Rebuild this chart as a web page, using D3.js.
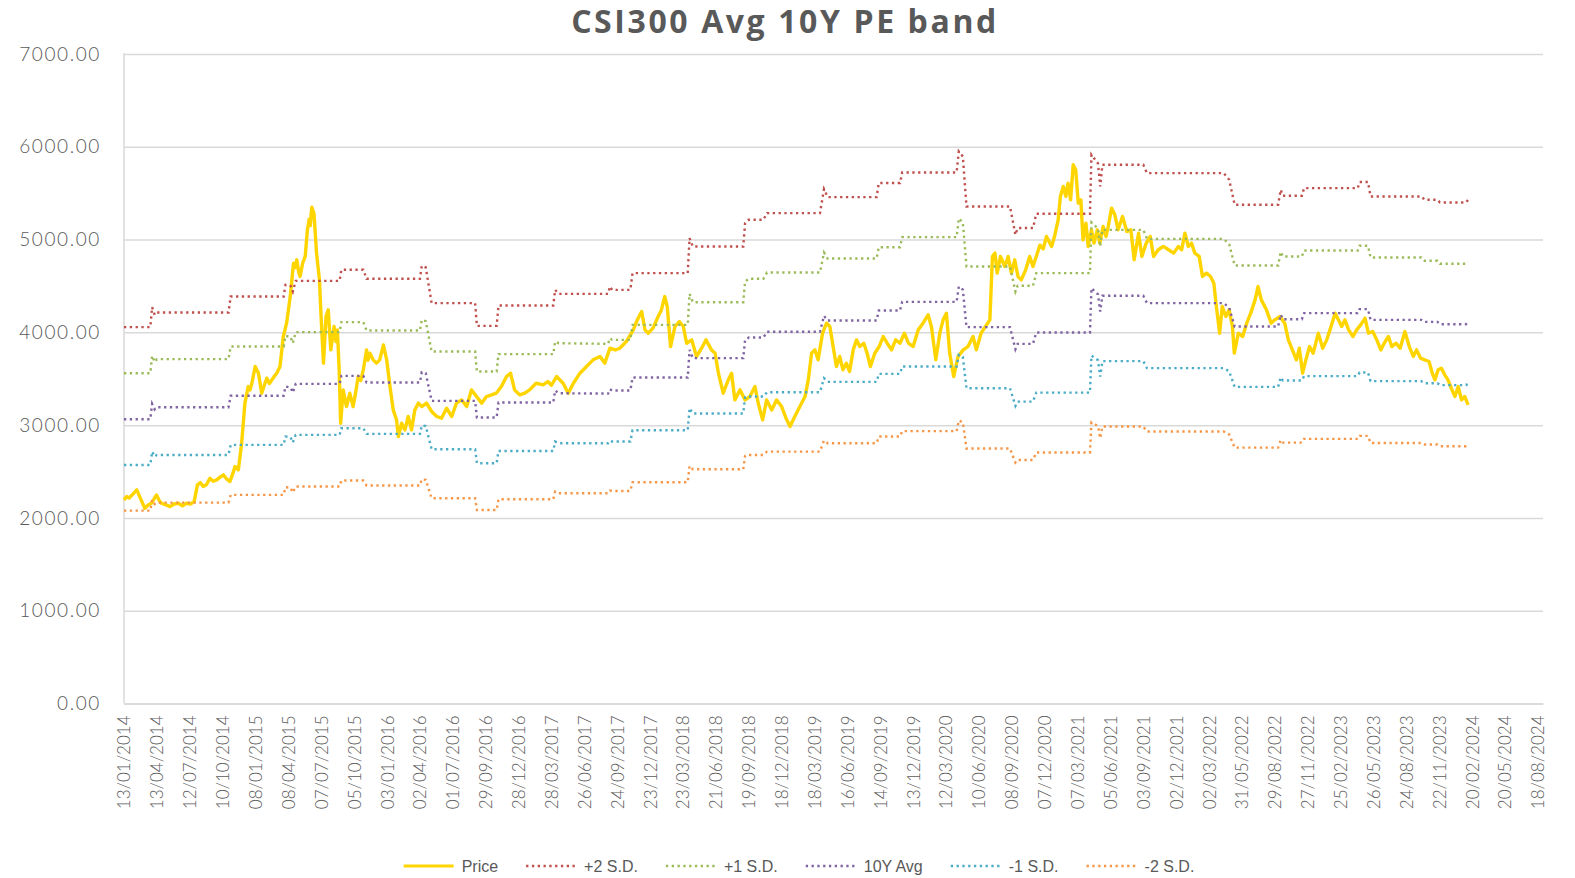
<!DOCTYPE html>
<html><head><meta charset="utf-8">
<script src="https://cdn.jsdelivr.net/npm/d3@7"></script>
<style>body{margin:0;background:#fff;} svg{display:block}</style>
</head><body><svg id="c" width="1575" height="878"></svg>
<script>
// ---------- DATA ----------
const chartTitle = "CSI300 Avg 10Y PE band";
const startDate = "13/01/2014";          // day 0 of the day offsets below
const axisEndDay = 3884;                  // right end of date axis (days after start)
const tickLabels = ["13/01/2014","13/04/2014","12/07/2014","10/10/2014","08/01/2015","08/04/2015","07/07/2015","05/10/2015","03/01/2016","02/04/2016","01/07/2016","29/09/2016","28/12/2016","28/03/2017","26/06/2017","24/09/2017","23/12/2017","23/03/2018","21/06/2018","19/09/2018","18/12/2018","18/03/2019","16/06/2019","14/09/2019","13/12/2019","12/03/2020","10/06/2020","08/09/2020","07/12/2020","07/03/2021","05/06/2021","03/09/2021","02/12/2021","02/03/2022","31/05/2022","29/08/2022","27/11/2022","25/02/2023","26/05/2023","24/08/2023","22/11/2023","20/02/2024","20/05/2024","18/08/2024"];
const yTicks = [0,1000,2000,3000,4000,5000,6000,7000];

// Price: days after start, index level
const priceDays = [0,7,14,25,35,45,57,66,75,89,96,103,115,126,137,149,160,171,182,192,201,209,217,226,235,244,254,263,272,281,290,297,304,313,322,331,340,345,350,359,368,377,384,391,398,405,412,418,427,436,445,455,464,469,473,478,482,489,496,502,507,510,514,520,527,535,539,543,546,553,559,566,571,575,580,584,589,593,600,609,618,627,634,641,648,655,664,668,673,682,691,700,710,719,728,737,746,751,760,769,778,787,796,806,815,828,842,856,869,883,897,910,924,938,951,965,979,992,1006,1019,1033,1047,1058,1069,1083,1097,1110,1128,1147,1160,1170,1184,1202,1216,1230,1248,1266,1284,1303,1316,1330,1345,1357,1375,1394,1405,1417,1426,1435,1448,1462,1471,1480,1487,1496,1508,1520,1531,1540,1554,1567,1581,1593,1608,1618,1627,1640,1654,1663,1672,1686,1700,1713,1727,1736,1748,1759,1773,1786,1800,1812,1823,1836,1850,1864,1873,1882,1891,1900,1912,1923,1932,1941,1950,1959,1968,1977,1986,1996,2005,2014,2025,2034,2043,2055,2067,2078,2089,2101,2112,2124,2136,2147,2160,2174,2187,2201,2210,2222,2233,2242,2251,2260,2271,2283,2297,2310,2324,2333,2346,2358,2370,2377,2384,2390,2399,2411,2420,2429,2438,2447,2456,2468,2479,2488,2497,2507,2516,2525,2539,2548,2557,2563,2571,2578,2584,2591,2598,2605,2612,2619,2625,2633,2639,2648,2655,2664,2671,2680,2688,2694,2703,2712,2721,2733,2745,2756,2765,2777,2786,2798,2809,2818,2831,2845,2859,2873,2886,2895,2904,2913,2922,2931,2943,2952,2963,2974,2983,2990,2999,3006,3016,3025,3034,3039,3050,3062,3073,3084,3096,3104,3113,3127,3140,3150,3164,3177,3187,3198,3209,3217,3226,3235,3245,3255,3269,3281,3292,3301,3315,3324,3333,3342,3352,3364,3374,3385,3397,3406,3418,3429,3440,3452,3461,3470,3482,3493,3506,3518,3529,3538,3549,3560,3572,3581,3588,3597,3606,3615,3624,3633,3643,3652,3661,3670,3679];
const priceValues = [2194,2230,2215,2260,2302,2210,2104,2140,2158,2248,2190,2158,2140,2122,2150,2158,2130,2158,2150,2176,2356,2380,2338,2360,2428,2395,2410,2440,2464,2420,2392,2470,2553,2518,2805,3237,3416,3380,3452,3632,3560,3344,3430,3506,3450,3488,3530,3560,3632,3955,4099,4386,4746,4700,4782,4650,4602,4746,4818,5105,5220,5150,5350,5284,4854,4566,4207,3900,3668,4170,4243,3811,3950,4063,3900,4027,3596,3021,3380,3200,3344,3200,3350,3524,3480,3596,3811,3700,3775,3704,3668,3704,3865,3704,3416,3164,3057,2877,3021,2949,3093,2949,3164,3237,3200,3237,3147,3093,3075,3183,3093,3237,3272,3200,3380,3308,3237,3308,3326,3344,3416,3524,3560,3380,3326,3344,3380,3452,3434,3470,3430,3524,3452,3344,3452,3560,3632,3704,3740,3668,3829,3810,3829,3901,4027,4135,4224,4027,3991,4045,4171,4242,4386,4278,3847,4063,4117,4063,3883,3919,3740,3829,3919,3811,3775,3560,3344,3488,3560,3272,3380,3272,3308,3416,3236,3057,3272,3164,3272,3200,3075,2985,3093,3200,3308,3488,3776,3811,3704,3991,4099,4063,3847,3632,3740,3596,3668,3578,3811,3919,3847,3883,3775,3632,3775,3847,3955,3883,3811,3919,3883,3991,3883,3847,4027,4099,4189,4063,3704,3991,4135,4207,3776,3524,3740,3811,3847,3955,3811,3991,4063,4135,4818,4854,4638,4818,4710,4818,4638,4782,4602,4566,4674,4818,4710,4818,4940,4900,5033,4926,5050,5213,5465,5572,5465,5608,5429,5806,5752,5393,5429,4997,5177,4926,5105,4962,5105,4962,5141,5033,5141,5339,5267,5105,5249,5087,5105,4782,5069,4818,4962,5033,4818,4890,4926,4890,4854,4926,4890,5069,4926,4962,4854,4818,4602,4638,4602,4530,4278,3991,4278,4171,4243,4063,3776,3991,3955,4099,4207,4350,4494,4350,4243,4099,4135,4171,4099,3919,3811,3704,3829,3560,3704,3847,3776,3991,3829,3919,4027,4207,4135,4063,4135,4027,3955,4027,4081,4153,3991,4009,3919,3811,3901,3955,3847,3883,3829,4009,3847,3740,3811,3722,3704,3686,3560,3488,3596,3614,3542,3488,3398,3308,3416,3272,3308,3218];

// PE bands: days after start, index level
const bandDays = [0,72,77,84,90,286,292,437,442,456,462,470,590,595,655,664,810,815,826,842,961,966,1020,1025,1175,1180,1190,1325,1330,1336,1386,1392,1543,1548,1557,1695,1700,1710,1750,1760,1905,1916,1926,2060,2066,2124,2130,2279,2285,2296,2306,2425,2440,2446,2488,2497,2644,2648,2666,2672,2678,2790,2800,3010,3025,3040,3159,3166,3172,3224,3230,3377,3382,3405,3412,3551,3560,3595,3602,3673,3679];
const plus2SD = [4056,4056,4272,4189,4214,4214,4386,4386,4512,4500,4440,4555,4555,4674,4674,4577,4577,4717,4700,4315,4315,4070,4070,4289,4289,4458,4415,4415,4494,4458,4458,4638,4638,5016,4925,4925,5177,5213,5213,5285,5285,5544,5458,5458,5609,5609,5723,5723,5950,5896,5357,5357,5051,5124,5124,5278,5278,5914,5820,5572,5806,5806,5716,5716,5645,5375,5375,5537,5472,5472,5555,5555,5620,5620,5465,5465,5429,5429,5400,5400,5429];
const plus1SD = [3560,3560,3747,3680,3711,3711,3847,3847,3962,3950,3883,4002,4002,4110,4110,4020,4020,4135,4120,3793,3793,3578,3578,3765,3765,3901,3883,3876,3937,3919,3919,4081,4081,4415,4325,4325,4548,4577,4577,4645,4645,4861,4796,4796,4918,4918,5026,5026,5228,5185,4710,4710,4440,4502,4502,4638,4638,5184,5120,4926,5105,5105,5008,5008,4950,4721,4721,4868,4818,4818,4882,4882,4933,4933,4807,4807,4771,4771,4739,4739,4760];
const avg10Y = [3064,3064,3229,3170,3193,3193,3316,3316,3416,3405,3351,3445,3445,3531,3531,3459,3459,3571,3560,3262,3262,3082,3082,3244,3244,3373,3344,3340,3387,3373,3373,3513,3513,3811,3722,3722,3919,3944,3944,4006,4006,4178,4128,4128,4235,4235,4329,4329,4494,4460,4056,4056,3819,3876,3876,3998,3998,4476,4410,4225,4394,4394,4315,4315,4265,4063,4063,4190,4142,4142,4207,4207,4250,4250,4135,4135,4113,4113,4088,4088,4107];
const minus1SD = [2571,2571,2715,2660,2679,2679,2787,2787,2877,2870,2812,2895,2895,2967,2967,2906,2906,2996,2990,2740,2740,2590,2590,2722,2722,2823,2805,2805,2833,2823,2823,2945,2945,3183,3125,3125,3301,3308,3308,3355,3355,3506,3466,3466,3553,3553,3632,3632,3758,3735,3398,3398,3208,3254,3254,3351,3351,3750,3700,3524,3690,3690,3614,3614,3580,3412,3412,3515,3481,3481,3528,3528,3567,3567,3474,3474,3452,3452,3431,3431,3445];
const minus2SD = [2079,2079,2194,2150,2165,2165,2248,2248,2331,2325,2273,2338,2338,2403,2403,2349,2349,2417,2410,2212,2212,2086,2086,2201,2201,2284,2266,2266,2295,2291,2291,2385,2385,2561,2525,2525,2669,2679,2679,2715,2715,2834,2805,2805,2877,2877,2935,2935,3050,3030,2748,2748,2597,2625,2625,2705,2705,3028,2990,2859,2985,2985,2931,2931,2900,2758,2758,2840,2812,2812,2852,2852,2884,2884,2808,2808,2791,2791,2773,2773,2787];

const seriesNames = ["Price","+2 S.D.","+1 S.D.","10Y Avg","-1 S.D.","-2 S.D."];
const seriesColors = ["#FFD500","#C0504D","#9BBB59","#8064A2","#4BACC6","#F79646"];

// ---------- CHART ----------
const svg = d3.select("#c");
const L = 124, R = 1543, T = 54, B = 703.5;
const parse = d3.utcParse("%d/%m/%Y");
const base = parse(startDate);
const toDate = d => d3.utcDay.offset(base, d);
const x = d3.scaleUtc().domain([base, toDate(axisEndDay)]).range([L, R]);
const y = d3.scaleLinear().domain([0, 7000]).range([B, T]);
const grey = "#595959";

// title
svg.append("text").attr("x", 785).attr("y", 33).attr("text-anchor", "middle")
  .attr("font-family", "'Open Sans', sans-serif").attr("font-weight", 700)
  .attr("font-size", 32).attr("letter-spacing", 2.6).attr("fill", grey).text(chartTitle);

// y axis + grid
const yAxis = svg.append("g").attr("transform", `translate(${L},0)`)
  .call(d3.axisLeft(y).tickValues(yTicks).tickSize(-(R - L)).tickPadding(23).tickFormat(d3.format(".2f")));
yAxis.select(".domain").remove();
yAxis.selectAll(".tick line").attr("stroke", "#d9d9d9").attr("stroke-width", 1.5);
yAxis.selectAll(".tick text").attr("fill", grey).attr("font-family", "Lato, sans-serif")
  .attr("font-weight", 300).attr("font-size", 19).attr("letter-spacing", 1.6);

// left axis line
svg.append("line").attr("x1", L).attr("x2", L).attr("y1", T - 1).attr("y2", B)
  .attr("stroke", "#d9d9d9").attr("stroke-width", 1.5);

// x axis
const tickDates = tickLabels.map(parse);
const xAxis = svg.append("g").attr("transform", `translate(0,${B})`)
  .call(d3.axisBottom(x).tickValues(tickDates).tickSize(0).tickFormat((d, i) => tickLabels[i]));
xAxis.select(".domain").attr("stroke", "#d9d9d9").attr("stroke-width", 1.5);
xAxis.selectAll(".tick text").attr("fill", grey).attr("font-family", "Lato, sans-serif")
  .attr("font-weight", 300).attr("font-size", 17)
  .attr("transform", "rotate(-90)").attr("text-anchor", "end")
  .attr("x", -12).attr("y", 0).attr("dy", "0.35em");

// series
const line = d3.line().x(d => x(toDate(d[0]))).y(d => y(d[1]));
const priceData = priceDays.map((d, i) => [d, priceValues[i]]);
const bands = [plus2SD, plus1SD, avg10Y, minus1SD, minus2SD];
const g = svg.append("g");
g.append("path").datum(priceData).attr("d", line).attr("fill", "none")
  .attr("stroke", seriesColors[0]).attr("stroke-width", 3.4).attr("stroke-linejoin", "round");
bands.forEach((vals, k) => {
  g.append("path").datum(bandDays.map((d, i) => [d, vals[i]])).attr("d", line).attr("fill", "none")
    .attr("stroke", seriesColors[k + 1]).attr("stroke-width", 2.4).attr("stroke-dasharray", "2.3,3.5");
});

// legend
const leg = svg.append("g");
let cx = 0;
seriesNames.forEach((name, i) => {
  const it = leg.append("g").attr("transform", `translate(${cx},0)`);
  it.append("line").attr("x1", 0).attr("x2", 50).attr("y1", 0).attr("y2", 0)
    .attr("stroke", seriesColors[i]).attr("stroke-width", i === 0 ? 3.2 : 2.4)
    .attr("stroke-dasharray", i === 0 ? null : "2.3,3.5");
  const t = it.append("text").attr("x", 58).attr("y", 0).attr("dy", "0.35em")
    .attr("font-family", "'Liberation Sans Narrow', 'Arial Narrow', sans-serif")
    .attr("font-size", 16).attr("fill", grey).text(name);
  cx += 58 + t.node().getComputedTextLength() + 28;
});
const total = cx - 28;
leg.attr("transform", `translate(${799 - total / 2},866)`);
</script></body></html>
